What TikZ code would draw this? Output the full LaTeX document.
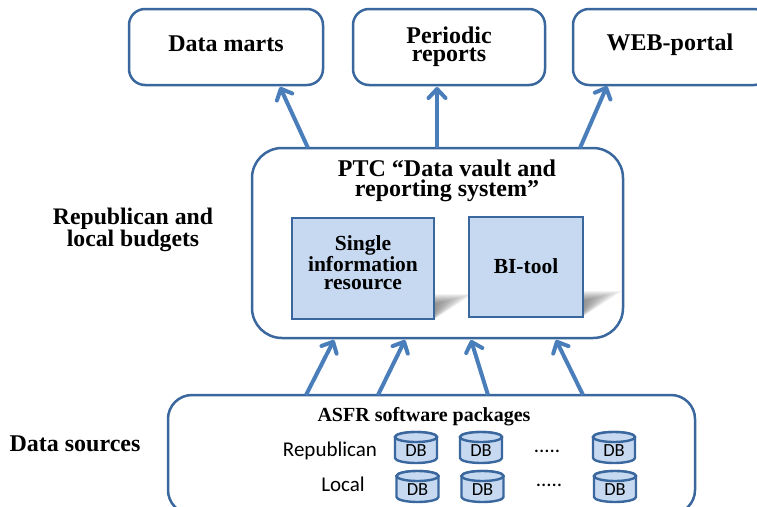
\documentclass[tikz,border=0pt]{standalone}
\usepackage{fontspec}
\setmainfont{Liberation Serif}
\newfontfamily\calfont{Carlito}
\usetikzlibrary{arrows.meta}
\definecolor{edgeblue}{HTML}{3A689E}
\definecolor{arrowblue}{HTML}{4A7EBB}
\definecolor{fillblue}{HTML}{C6D9F1}
\tikzset{
  roundbox/.style={draw=edgeblue,line width=2.5pt,fill=white,rounded corners=#1},
  roundbox/.default=16pt,
  bluebox/.style={draw=edgeblue,line width=2.8pt,fill=fillblue},
  title/.style={font=\bfseries\fontsize{24}{18}\selectfont,align=center,inner sep=0pt,text=black},
  inbox/.style={font=\bfseries\fontsize{21.5}{18}\selectfont,align=center,inner sep=0pt,text=black},
  plain/.style={font=\calfont\fontsize{21}{24}\selectfont,inner sep=0pt,text=black},
  dbtext/.style={font=\calfont\fontsize{18.5}{20}\selectfont,inner sep=0pt,text=black},
  dbline/.style={draw=edgeblue,line width=2.4pt,fill=fillblue},
  flow/.style={draw=arrowblue,line width=4pt,-{Straight Barb[length=9pt,width=17pt,line width=4pt,round]}},
}
% cylinder: centre x, top y, name
\newcommand{\dbdrum}[3]{%
  \draw[dbline] (#1-21,#2+5) -- (#1-21,#2+26) arc[start angle=180,end angle=360,x radius=21,y radius=-5]
     -- (#1+21,#2+5) arc[start angle=0,end angle=180,x radius=21,y radius=-5] -- cycle;
  \draw[dbline] (#1,#2+5) ellipse[x radius=21,y radius=5];
  \node[dbtext] (#3) at (#1,#2+19) {DB};
}
% soft shadow: corner x, y
\newcommand{\softshade}[2]{%
  \foreach \t in {0.1,0.2,0.3,0.4,0.5,0.6,0.7,0.8,0.9,1.0} {
    \fill[black,fill opacity=0.05]
      (#1-1,{#2+(1-\t)*10-2}) -- ({#1+39*\t},{#2+(1-\t)*10-2}) -- (#1-1,{#2+24-(1-\t)*3}) -- cycle;
  }
}
\begin{document}
\begin{tikzpicture}[x=1pt,y=-1pt]
\useasboundingbox (0,0) rectangle (757,506);
\clip (0,0) rectangle (757,506);
% top boxes
\draw[roundbox] (129,9) rectangle (323,85);
\coordinate (martsIn) at (280,87);
\draw[roundbox] (353,9) rectangle (545,85);
\coordinate (reportsIn) at (437,87);
\draw[roundbox] (573,9) rectangle (770,85);
\coordinate (webIn) at (607,86);
\node[title] (marts) at (226,44) {Data marts};
\node[title] (reports) at (449,47) {Periodic\\reports};
\node[title] (web) at (670,45) {WEB-portal};
% main box
\draw[roundbox=30pt] (252,148) rectangle (623,338);
\coordinate (outA) at (308,148);
\coordinate (outB) at (437,148);
\coordinate (outC) at (580,148);
\coordinate (inA) at (334,340);
\coordinate (inB) at (405,340);
\coordinate (inC) at (471,340);
\coordinate (inD) at (556,340);
\node[title,font=\bfseries\fontsize{24}{20.5}\selectfont] (ptc) at (447,181) {PTC “Data vault and\\reporting system”};
% shadows
\softshade{434}{296}
\softshade{583}{293}
% inner boxes
\draw[bluebox] (292,218) rectangle (434,319);
\draw[bluebox] (469,217) rectangle (583,317);
\node[inbox] (sir) at (363,263) {Single\\information\\resource};
\node[inbox] (bi) at (526,266) {BI-tool};
% side labels
\node[title,font=\bfseries\fontsize{23.7}{20}\selectfont] (budgets) at (133,230) {Republican and\\local budgets};
\node[title] (sources) at (75,444) {Data sources};
% bottom box
\draw[roundbox=24pt] (168,395) rectangle (695,514);
\coordinate (srcA) at (306,395);
\coordinate (srcB) at (378,395);
\coordinate (srcC) at (488,395);
\coordinate (srcD) at (583,395);
\node[inbox,font=\bfseries\fontsize{20}{22}\selectfont] (asfr) at (424,417) {ASFR software packages};
\node[plain] (rep) at (330,451) {Republican};
\node[plain] (loc) at (343,484) {Local};
\dbdrum{416}{432}{r1}
\dbdrum{481}{432}{r2}
\dbdrum{614}{432}{r3}
\dbdrum{417.5}{471}{l1}
\dbdrum{482.5}{471}{l2}
\dbdrum{615}{471}{l3}
\node[plain] (d1) at (547,451) {.....};
\node[plain] (d2) at (549,485) {.....};
% arrows
\draw[flow] (outA) -- (martsIn);
\draw[flow] (outB) -- (reportsIn);
\draw[flow] (outC) -- (webIn);
\draw[flow] (srcA) -- (inA);
\draw[flow] (srcB) -- (inB);
\draw[flow] (srcC) -- (inC);
\draw[flow] (srcD) -- (inD);
\end{tikzpicture}
\end{document}
